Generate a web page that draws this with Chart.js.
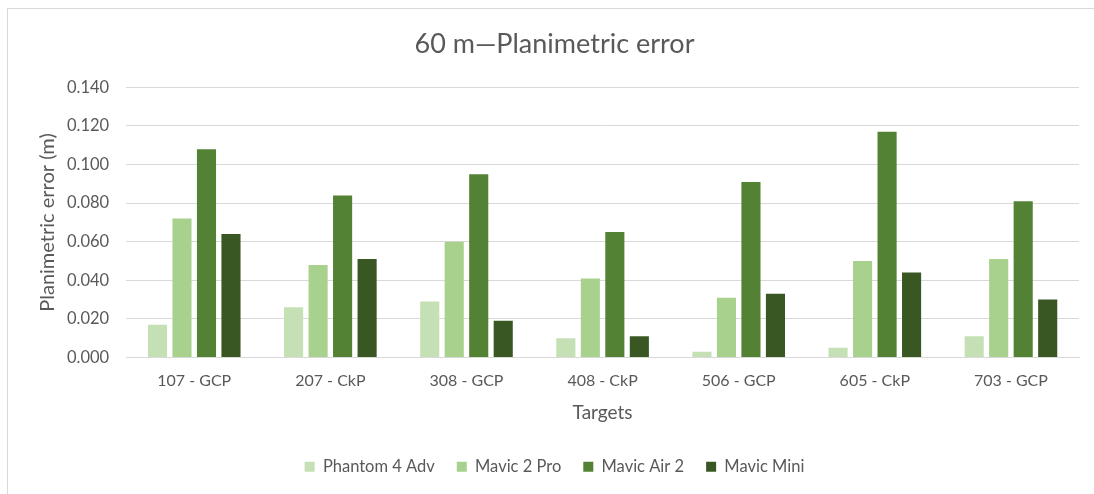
<!DOCTYPE html>
<html>
<head>
<meta charset="utf-8">
<script src="https://cdn.jsdelivr.net/npm/chart.js@4.4.1/dist/chart.umd.min.js"></script>
<style>
  html, body { margin: 0; padding: 0; background: #ffffff; }
  #wrap { position: relative; width: 1094px; height: 494px; overflow: hidden; }
  #frame { position: absolute; left: 7px; top: 8px; width: 1100px; height: 500px;
           border-top: 1px solid #d9d9d9; border-left: 1px solid #d9d9d9; }
  canvas { position: absolute; left: 0; top: 0; }
</style>
</head>
<body>
<div id="wrap">
  <div id="frame"></div>
  <canvas id="chart" width="1094" height="494"></canvas>
</div>
<script>
// Survey targets and planimetric error (m) per drone at 60 m flight height
const targets = ['107 - GCP', '207 - CkP', '308 - GCP', '408 - CkP', '506 - GCP', '605 - CkP', '703 - GCP'];
const phantom4Adv = [0.017, 0.026, 0.029, 0.010, 0.003, 0.005, 0.011];
const mavic2Pro   = [0.072, 0.048, 0.060, 0.041, 0.031, 0.050, 0.051];
const mavicAir2   = [0.108, 0.084, 0.095, 0.065, 0.091, 0.117, 0.081];
const mavicMini   = [0.064, 0.051, 0.019, 0.011, 0.033, 0.044, 0.030];
const yTicks = [0, 0.02, 0.04, 0.06, 0.08, 0.10, 0.12, 0.14];

const font = 'Lato, "Open Sans", sans-serif';
const textColor = '#595959';
const gridColor = '#d9d9d9';

new Chart(document.getElementById('chart'), {
  type: 'bar',
  data: {
    labels: targets,
    datasets: [
      { label: 'Phantom 4 Adv', data: phantom4Adv, backgroundColor: '#c5e0b4' },
      { label: 'Mavic 2 Pro',   data: mavic2Pro,   backgroundColor: '#a9d18e' },
      { label: 'Mavic Air 2',   data: mavicAir2,   backgroundColor: '#548235' },
      { label: 'Mavic Mini',    data: mavicMini,   backgroundColor: '#385723' }
    ]
  },
  options: {
    responsive: false,
    animation: false,
    devicePixelRatio: 1,
    categoryPercentage: 0.72,
    barPercentage: 0.78,
    layout: { padding: { left: 30, right: 15, top: 27, bottom: 9 } },
    plugins: {
      title: {
        display: true,
        text: '60 m\u2014Planimetric error',
        color: textColor,
        font: { family: font, size: 27, weight: 'normal' },
        padding: { top: 1, bottom: 27 }
      },
      legend: {
        position: 'bottom',
        labels: {
          color: textColor,
          font: { family: font, size: 16.5 },
          boxWidth: 10,
          boxHeight: 10,
          padding: 22
        }
      },
      tooltip: { enabled: false }
    },
    scales: {
      x: {
        grid: { display: false, drawTicks: false },
        border: { color: gridColor, width: 1 },
        ticks: { color: textColor, font: { family: font, size: 16 }, padding: 14 },
        title: {
          display: true, text: 'Targets', color: textColor,
          font: { family: font, size: 19 }, padding: { top: -3, bottom: 12 }
        }
      },
      y: {
        min: 0,
        max: 0.14,
        afterBuildTicks: axis => { axis.ticks = yTicks.map(v => ({ value: v })); },
        grid: { color: gridColor, lineWidth: 1, drawTicks: false },
        border: { display: false },
        ticks: {
          color: textColor,
          font: { family: font, size: 16.5 },
          padding: 17,
          callback: v => Number(v).toFixed(3)
        },
        title: {
          display: true, text: 'Planimetric error (m)', color: textColor,
          font: { family: font, size: 20 }, padding: { top: 6, bottom: -10 }
        }
      }
    }
  }
});
</script>
</body>
</html>
